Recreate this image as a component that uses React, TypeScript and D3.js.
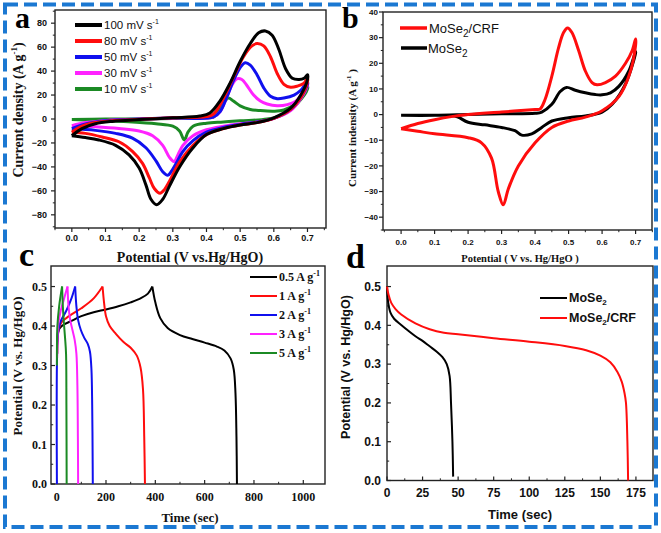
import React from 'react';
import * as d3 from 'd3';

type P = [number, number];

const SERIF = "'Liberation Serif', 'Times New Roman', serif";
const SANS = "'Liberation Sans', Arial, sans-serif";

// ---------- Panel a: CV at different scan rates ----------
const cvRateLabels = ['100 mV s', '80 mV s', '50 mV s', '30 mV s', '10 mV s'];
const cvColors = ['#000000', '#ff0d0d', '#1010ee', '#ff22ff', '#1b8a24'];
const cv100: P[] = [[0,-14],[0.03,-8],[0.07,-4],[0.12,-2],[0.2,-0.5],[0.3,1],[0.38,2.5],[0.41,5],[0.44,15],[0.47,30],[0.5,48],[0.53,63],[0.555,72],[0.575,73.5],[0.595,70],[0.615,58],[0.635,42],[0.655,34],[0.675,33],[0.69,34],[0.7,37],
  [0.7,33],[0.68,20],[0.65,9],[0.6,1],[0.55,-3],[0.5,-5],[0.45,-8],[0.4,-13],[0.36,-24],[0.32,-40],[0.29,-56],[0.27,-67],[0.252,-71.5],[0.235,-67],[0.22,-55],[0.2,-41],[0.17,-30],[0.13,-22],[0.08,-17.5],[0.04,-15.5],[0,-14]];
const cv80: P[] = [[0,-11],[0.03,-6],[0.07,-3],[0.12,-1.5],[0.2,-0.3],[0.3,1],[0.4,2],[0.42,4],[0.45,17],[0.48,35],[0.51,52],[0.535,61],[0.55,63],[0.57,61],[0.59,52],[0.61,38],[0.63,29],[0.65,26.5],[0.67,27.5],[0.69,30],[0.7,34],
  [0.7,31],[0.68,18],[0.65,8],[0.6,0.5],[0.55,-3],[0.5,-5],[0.45,-8],[0.4,-13],[0.36,-22],[0.32,-36],[0.29,-52],[0.275,-59],[0.262,-62],[0.245,-58],[0.23,-49],[0.21,-37],[0.18,-27],[0.14,-19],[0.09,-15],[0.04,-12],[0,-11]];
const cv50: P[] = [[0,-8],[0.03,-5],[0.07,-2.5],[0.12,-1],[0.2,0],[0.3,1],[0.42,1.5],[0.44,6],[0.46,18],[0.48,32],[0.5,43],[0.515,47],[0.53,45],[0.55,37],[0.57,26],[0.59,19],[0.61,17],[0.63,17.5],[0.66,20],[0.68,24],[0.7,31],
  [0.7,29],[0.68,18],[0.65,8],[0.6,0.5],[0.55,-2.5],[0.5,-4.5],[0.45,-7],[0.4,-11],[0.36,-18],[0.33,-27],[0.31,-37],[0.295,-44],[0.285,-47],[0.27,-44],[0.25,-35],[0.22,-24],[0.18,-16],[0.13,-12],[0.07,-9.5],[0,-8]];
const cv30: P[] = [[0,-5.5],[0.04,-3],[0.09,-1.5],[0.15,-0.5],[0.25,0.3],[0.35,1],[0.42,1.5],[0.44,6],[0.46,18],[0.475,28],[0.49,33.5],[0.505,33],[0.52,28],[0.54,20],[0.56,15],[0.58,12.5],[0.61,11],[0.64,12],[0.67,16],[0.7,30],
  [0.7,28],[0.68,17],[0.65,7],[0.6,0.5],[0.55,-2.5],[0.5,-4],[0.45,-6],[0.4,-9],[0.36,-14],[0.33,-22],[0.315,-30],[0.304,-35.5],[0.29,-32],[0.27,-22],[0.24,-14],[0.2,-10],[0.14,-8],[0.07,-6.5],[0,-5.5]];
const cv10: P[] = [[0,-0.5],[0.1,0],[0.2,0],[0.3,0.5],[0.4,1],[0.42,1.5],[0.44,8],[0.455,15],[0.465,17.5],[0.48,15],[0.5,11],[0.53,8],[0.56,7],[0.6,6.5],[0.63,7.5],[0.66,12],[0.7,27],
  [0.7,25],[0.67,13],[0.63,4],[0.58,0],[0.5,-1.5],[0.45,-2.5],[0.4,-3.5],[0.36,-6],[0.345,-11],[0.334,-17.5],[0.32,-10],[0.3,-6],[0.25,-4],[0.18,-2.5],[0.1,-1.5],[0,-0.5]];
const cvCurves = [cv100, cv80, cv50, cv30, cv10];

// ---------- Panel b: CV comparison ----------
const cvbCRF: P[] = [[0,-5.5],[0.05,-3.5],[0.1,-2],[0.15,-0.8],[0.2,0],[0.3,1],[0.4,2],[0.415,2.2],[0.43,6],[0.45,15],[0.47,26],[0.485,32],[0.497,33.8],[0.51,32],[0.53,25],[0.55,17],[0.57,12.5],[0.585,11.6],[0.61,12.5],[0.64,15],[0.67,20],[0.69,25],[0.7,29.5],
  [0.7,27],[0.68,15],[0.65,7],[0.6,1.5],[0.55,-1],[0.5,-2.5],[0.45,-5],[0.4,-11],[0.35,-20],[0.32,-29],[0.305,-35.2],[0.29,-30],[0.27,-17],[0.24,-11],[0.2,-9],[0.1,-7.5],[0.05,-6.5],[0,-5.5]];
const cvbMoSe2: P[] = [[0,-0.3],[0.1,-0.3],[0.2,0],[0.3,0.3],[0.4,0.5],[0.42,1],[0.45,4],[0.475,9],[0.494,10.6],[0.52,9.5],[0.55,8.5],[0.58,7.8],[0.6,7.7],[0.625,8.5],[0.65,11],[0.68,17],[0.7,24.5],
  [0.7,24],[0.67,12],[0.63,4],[0.6,1],[0.55,-0.5],[0.5,-1.2],[0.45,-2.5],[0.42,-5],[0.39,-7.5],[0.36,-8],[0.34,-6.3],[0.3,-5],[0.25,-4],[0.2,-3],[0.17,-1],[0.15,-0.4],[0.1,-0.3],[0,-0.3]];

// ---------- Panel c: GCD at current densities ----------
const gcdLabels = ['0.5 A g', '1 A g', '2 A g', '3 A g', '5 A g'];
const gcdColors = ['#000000', '#ff0d0d', '#1010ee', '#ff22ff', '#1b8a24'];
const gcd05Charge: P[] = [[2,0.33],[8,0.39],[25,0.402],[60,0.413],[100,0.425],[150,0.435],[200,0.442],[250,0.45],[300,0.46],[340,0.47],[370,0.482],[388,0.5]];
const gcd05Discharge: P[] = [[388,0.5],[400,0.46],[420,0.42],[450,0.395],[500,0.377],[550,0.367],[600,0.358],[650,0.348],[680,0.338],[705,0.318],[718,0.29],[725,0.23],[729,0.12],[731,0.0]];
const gcd1Charge: P[] = [[2,0.33],[8,0.39],[20,0.41],[50,0.425],[100,0.445],[150,0.47],[186,0.5]];
const gcd1Discharge: P[] = [[186,0.5],[192,0.46],[200,0.425],[215,0.4],[240,0.38],[270,0.36],[300,0.345],[325,0.325],[340,0.295],[350,0.24],[355,0.12],[358,0.0]];
const gcd2Charge: P[] = [[1,0.0],[1,0.3],[5,0.38],[15,0.41],[40,0.44],[60,0.47],[75,0.5]];
const gcd2Discharge: P[] = [[75,0.5],[80,0.45],[87,0.415],[98,0.39],[112,0.37],[126,0.355],[135,0.335],[141,0.29],[144,0.2],[146,0.05],[146.5,0.0]];
const gcd3Charge: P[] = [[2,0.32],[6,0.4],[15,0.435],[28,0.465],[44,0.5]];
const gcd3Discharge: P[] = [[44,0.5],[48,0.45],[55,0.415],[64,0.39],[73,0.365],[80,0.33],[84,0.25],[86,0.12],[87,0.0]];
const gcd5Charge: P[] = [[1,0.3],[3,0.4],[10,0.45],[22,0.5]];
const gcd5Discharge: P[] = [[22,0.5],[25,0.45],[29,0.41],[34,0.37],[38,0.33],[39.5,0.2],[40.5,0.0]];
const gcdCurves = [[gcd05Charge, gcd05Discharge],[gcd1Charge, gcd1Discharge],[gcd2Charge, gcd2Discharge],[gcd3Charge, gcd3Discharge],[gcd5Charge, gcd5Discharge]];

// ---------- Panel d: discharge comparison ----------
const dMoSe2: P[] = [[0,0.5],[0.8,0.46],[2.5,0.432],[5,0.417],[10,0.401],[15,0.386],[20,0.372],[25,0.36],[30,0.346],[35,0.332],[39,0.318],[42,0.3],[44,0.27],[45,0.2],[46,0.1],[46.5,0.01]];
const dCRF: P[] = [[0,0.5],[1,0.48],[3,0.458],[6,0.442],[10,0.428],[20,0.405],[30,0.39],[40,0.381],[50,0.377],[75,0.367],[100,0.358],[125,0.347],[140,0.336],[150,0.322],[157,0.305],[162,0.28],[165,0.255],[167,0.225],[168,0.2],[169,0.1],[169.5,0.0]];

interface TickCfg {
  xs: d3.ScaleLinear<number, number>;
  ys: d3.ScaleLinear<number, number>;
  xMajor: number[]; xMinor: number[]; yMajor: number[]; yMinor: number[];
  outward: boolean; xFmt: (v: number) => string; yFmt: (v: number) => string;
  font: string; size: number; xBase: number; yEnd: number;
}

function Frame(c: TickCfg) {
  const [x0, x1] = c.xs.range();
  const [y0, y1] = c.ys.range(); // y0 bottom, y1 top
  const dir = c.outward ? 1 : -1;
  const maj = 4, min = 2.2;
  return (
    <g>
      <rect x={x0} y={y1} width={x1 - x0} height={y0 - y1} fill="none" stroke="#222" strokeWidth={1.4} />
      {c.xMajor.map((v, i) => (
        <g key={'xm' + i}>
          <line x1={c.xs(v)} x2={c.xs(v)} y1={y0} y2={y0 + dir * maj} stroke="#222" strokeWidth={1.2} />
          <text x={c.xs(v)} y={c.xBase} textAnchor="middle" fontFamily={c.font} fontWeight="bold" fontSize={c.size} fill="#111">{c.xFmt(v)}</text>
        </g>
      ))}
      {c.xMinor.map((v, i) => (
        <line key={'xn' + i} x1={c.xs(v)} x2={c.xs(v)} y1={y0} y2={y0 + dir * min} stroke="#222" strokeWidth={1} />
      ))}
      {c.yMajor.map((v, i) => (
        <g key={'ym' + i}>
          <line x1={x0} x2={x0 - dir * maj} y1={c.ys(v)} y2={c.ys(v)} stroke="#222" strokeWidth={1.2} />
          <text x={c.yEnd} y={c.ys(v)} dy="0.35em" textAnchor="end" fontFamily={c.font} fontWeight="bold" fontSize={c.size} fill="#111">{c.yFmt(v)}</text>
        </g>
      ))}
      {c.yMinor.map((v, i) => (
        <line key={'yn' + i} x1={x0} x2={x0 - dir * min} y1={c.ys(v)} y2={c.ys(v)} stroke="#222" strokeWidth={1} />
      ))}
    </g>
  );
}

const f1 = d3.format('.1f');
const f0 = d3.format('d');

export default function App() {
  // Panel a scales
  const xa = d3.scaleLinear().domain([-0.05, 0.755]).range([55, 326]);
  const ya = d3.scaleLinear().domain([-91, 91]).range([228, 10]);
  const la = d3.line<P>().x(d => xa(d[0])).y(d => ya(d[1])).curve(d3.curveCatmullRom.alpha(0.5));
  // Panel b
  const xb = d3.scaleLinear().domain([-0.054, 0.749]).range([383, 652]);
  const yb = d3.scaleLinear().domain([-45, 40]).range([230, 12]);
  const lb = d3.line<P>().x(d => xb(d[0])).y(d => yb(d[1])).curve(d3.curveCatmullRom.alpha(0.5));
  // Panel c
  const xc = d3.scaleLinear().domain([-23, 1088]).range([51, 325]);
  const yc = d3.scaleLinear().domain([0, 0.552]).range([484, 266]);
  const lc = d3.line<P>().x(d => xc(d[0])).y(d => yc(d[1])).curve(d3.curveCatmullRom.alpha(0.5));
  // Panel d
  const xd = d3.scaleLinear().domain([0, 187]).range([387, 653]);
  const yd = d3.scaleLinear().domain([0, 0.553]).range([480.5, 266]);
  const ld = d3.line<P>().x(d => xd(d[0])).y(d => yd(d[1])).curve(d3.curveCatmullRom.alpha(0.5));

  const cvXMajor = d3.range(0, 0.75, 0.1);
  const cvXMinor = d3.range(-0.05, 0.76, 0.1);

  return (
    <svg width={661} height={533} style={{ position: 'absolute', left: 0, top: 0, background: '#fff' }}>
      <rect x={0} y={0} width={661} height={533} fill="#fff" />

      {/* ===== Panel a ===== */}
      <Frame xs={xa} ys={ya} xMajor={cvXMajor} xMinor={cvXMinor}
        yMajor={d3.range(-80, 81, 20)} yMinor={d3.range(-90, 91, 20)}
        outward={true} xFmt={f1} yFmt={f0} font={SANS} size={9} xBase={241} yEnd={47} />
      {cvCurves.map((c, i) => (
        <path key={'a' + i} d={la(c) || ''} fill="none" stroke={cvColors[i]} strokeWidth={3} strokeLinejoin="round" />
      )).reverse()}
      {cvRateLabels.map((t, i) => (
        <g key={'al' + i}>
          <line x1={75} x2={102} y1={25 + i * 16} y2={25 + i * 16} stroke={cvColors[i]} strokeWidth={4} />
          <text x={104} y={25 + i * 16} dy="0.35em" fontFamily={SANS} fontSize={11.5} fill="#111">{t}<tspan dy={-5} fontSize={7}>-1</tspan></text>
        </g>
      ))}
      <text transform="translate(23,110) rotate(-90)" textAnchor="middle" fontFamily={SERIF} fontWeight="bold" fontSize={14} fill="#111">
        Current density (A g<tspan dy={-6} fontSize={9}>-1</tspan><tspan dy={6}>)</tspan>
      </text>
      <text x={190} y={262} textAnchor="middle" fontFamily={SERIF} fontWeight="bold" fontSize={14} fill="#111">Potential (V vs.Hg/HgO)</text>
      <text x={15} y={27.5} fontFamily={SERIF} fontWeight="bold" fontSize={30} fill="#000">a</text>

      {/* ===== Panel b ===== */}
      <Frame xs={xb} ys={yb} xMajor={cvXMajor} xMinor={cvXMinor}
        yMajor={d3.range(-40, 41, 10)} yMinor={d3.range(-45, 41, 10)}
        outward={true} xFmt={f1} yFmt={f0} font={SANS} size={8} xBase={245} yEnd={378} />
      <path d={lb(cvbMoSe2) || ''} fill="none" stroke="#000" strokeWidth={3} strokeLinejoin="round" />
      <path d={lb(cvbCRF) || ''} fill="none" stroke="#ff0d0d" strokeWidth={3} strokeLinejoin="round" />
      <line x1={400} x2={427} y1={28} y2={28} stroke="#ff0d0d" strokeWidth={3.5} />
      <text x={429} y={28} dy="0.35em" fontFamily={SANS} fontSize={13} fill="#111">MoSe<tspan dy={4} fontSize={10}>2</tspan><tspan dy={-4}>/CRF</tspan></text>
      <line x1={401} x2={427} y1={48} y2={48} stroke="#000" strokeWidth={3.5} />
      <text x={428} y={48} dy="0.35em" fontFamily={SANS} fontSize={13} fill="#111">MoSe<tspan dy={4} fontSize={10}>2</tspan></text>
      <text transform="translate(356,128) rotate(-90)" textAnchor="middle" fontFamily={SERIF} fontWeight="bold" fontSize={11} fill="#111">
        Current indensity (A g<tspan dy={-5} fontSize={7}>-1</tspan><tspan dy={5}> )</tspan>
      </text>
      <text x={520} y={262} textAnchor="middle" fontFamily={SERIF} fontWeight="bold" fontSize={10.5} fill="#111">Potential ( V vs. Hg/HgO )</text>
      <text x={342} y={28} fontFamily={SERIF} fontWeight="bold" fontSize={30} fill="#000">b</text>

      {/* ===== Panel c ===== */}
      <Frame xs={xc} ys={yc} xMajor={d3.range(0, 1001, 200)} xMinor={d3.range(100, 1001, 200)}
        yMajor={d3.range(0, 0.51, 0.1)} yMinor={d3.range(0.05, 0.55, 0.1)}
        outward={false} xFmt={f0} yFmt={f1} font={SERIF} size={12} xBase={501} yEnd={47} />
      {gcdCurves.map((pair, i) => (
        <g key={'c' + i}>
          {pair.map((seg, j) => (
            <path key={j} d={lc(seg) || ''} fill="none" stroke={gcdColors[i]} strokeWidth={2} strokeLinejoin="round" />
          ))}
        </g>
      ))}
      {gcdLabels.map((t, i) => {
        const yy = [277, 296, 315, 334, 353][i];
        return (
          <g key={'cl' + i}>
            <line x1={250} x2={277} y1={yy} y2={yy} stroke={gcdColors[i]} strokeWidth={2} />
            <text x={279} y={yy} dy="0.35em" fontFamily={SERIF} fontWeight="bold" fontSize={12} fill="#111">{t}<tspan dy={-5} fontSize={8}>-1</tspan></text>
          </g>
        );
      })}
      <text transform="translate(22,366) rotate(-90)" textAnchor="middle" fontFamily={SERIF} fontWeight="bold" fontSize={13} fill="#111">Potential (V vs. Hg/HgO)</text>
      <text x={190} y={522} textAnchor="middle" fontFamily={SERIF} fontWeight="bold" fontSize={13} fill="#111">Time (sec)</text>
      <text x={19} y={266} fontFamily={SERIF} fontWeight="bold" fontSize={34} fill="#000">c</text>

      {/* ===== Panel d ===== */}
      <Frame xs={xd} ys={yd} xMajor={d3.range(0, 176, 25)} xMinor={d3.range(12.5, 187, 25)}
        yMajor={d3.range(0, 0.51, 0.1)} yMinor={d3.range(0.05, 0.55, 0.1)}
        outward={false} xFmt={f0} yFmt={f1} font={SANS} size={12} xBase={497} yEnd={381} />
      <path d={ld(dMoSe2) || ''} fill="none" stroke="#000" strokeWidth={2} strokeLinejoin="round" />
      <path d={ld(dCRF) || ''} fill="none" stroke="#ff0d0d" strokeWidth={2} strokeLinejoin="round" />
      <line x1={540} x2={567} y1={298} y2={298} stroke="#000" strokeWidth={2} />
      <text x={569} y={298} dy="0.35em" fontFamily={SANS} fontWeight="bold" fontSize={12.5} fill="#111">MoSe<tspan dy={3} fontSize={8}>2</tspan></text>
      <line x1={540} x2={567} y1={318} y2={318} stroke="#ff0d0d" strokeWidth={2} />
      <text x={569} y={318} dy="0.35em" fontFamily={SANS} fontWeight="bold" fontSize={12.5} fill="#111">MoSe<tspan dy={3} fontSize={8}>2</tspan><tspan dy={-3}>/CRF</tspan></text>
      <text transform="translate(350,367) rotate(-90)" textAnchor="middle" fontFamily={SANS} fontWeight="bold" fontSize={12.5} fill="#111">Potential (V vs. Hg/HgO)</text>
      <text x={520} y={519} textAnchor="middle" fontFamily={SANS} fontWeight="bold" fontSize={13} fill="#111">Time (sec)</text>
      <text x={346} y={268} fontFamily={SERIF} fontWeight="bold" fontSize={34} fill="#000">d</text>

      {/* Dashed border */}
      <rect x={5} y={4.5} width={651} height={522.5} fill="none" stroke="#1b78d2" strokeWidth={4} strokeDasharray="13 6" />
    </svg>
  );
}
